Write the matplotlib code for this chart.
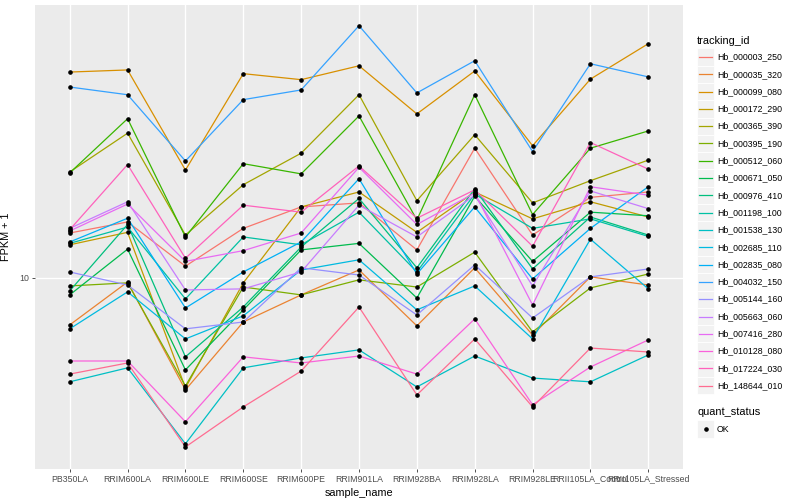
import matplotlib
matplotlib.use("Agg")
import matplotlib.pyplot as plt
from matplotlib.patches import Rectangle
from matplotlib.lines import Line2D

plt.rcParams['font.family'] = ['Liberation Sans', 'DejaVu Sans']

samples = ["PB350LA", "RRIM600LA", "RRIM600LE", "RRIM600SE", "RRIM600PE",
           "RRIM901LA", "RRIM928BA", "RRIM928LA", "RRIM928LE",
           "RRII105LA_Control", "RRII105LA_Stressed"]

tracking_ids = ["Hb_000003_250", "Hb_000035_320", "Hb_000099_080", "Hb_000172_290",
                "Hb_000365_390", "Hb_000395_190", "Hb_000512_060", "Hb_000671_050",
                "Hb_000976_410", "Hb_001198_100", "Hb_001538_130", "Hb_002685_110",
                "Hb_002835_080", "Hb_004032_150", "Hb_005144_160", "Hb_005663_060",
                "Hb_007416_280", "Hb_010128_080", "Hb_017224_030", "Hb_148644_010"]

# ggplot hue palette, 20 levels
colors = ["#F8766D", "#EA8331", "#D89000", "#C09B00", "#A3A500", "#7CAE00",
          "#39B600", "#00BB4E", "#00BF7D", "#00C1A3", "#00BFC4", "#00BAE0",
          "#00B0F6", "#35A2FF", "#9590FF", "#C77CFF", "#E76BF3", "#FA62DB",
          "#FF62BC", "#FF6C91"]

# FPKM + 1 per gene, one value per sample
fpkm = [
    [12.95, 13.8, 10.7, 13.3, 15.05, 15.4, 11.75, 21.1, 12.8, 15.9, 16.4],
    [7.63, 9.77, 5.25, 7.76, 9.07, 10.47, 7.59, 10.6, 7.20, 10.06, 9.60],
    [32.7, 33.1, 18.6, 32.4, 31.3, 33.9, 25.7, 32.9, 21.4, 31.4, 38.5],
    [12.1, 13.0, 5.31, 9.72, 15.05, 16.4, 13.0, 16.4, 14.05, 15.5, 14.2],
    [18.4, 23.0, 12.8, 17.1, 20.5, 28.7, 15.6, 22.8, 15.4, 17.5, 19.7],
    [9.55, 9.72, 5.37, 9.49, 9.07, 9.89, 9.49, 11.6, 7.33, 9.44, 10.23],
    [18.3, 25.0, 12.66, 19.3, 18.2, 25.4, 13.96, 28.7, 14.4, 21.1, 23.3],
    [9.07, 11.8, 5.89, 8.32, 11.75, 12.2, 8.91, 16.0, 11.0, 14.6, 14.3],
    [9.28, 13.6, 6.35, 8.46, 11.95, 15.8, 10.6, 16.7, 10.53, 14.2, 12.8],
    [12.2, 13.4, 8.86, 12.66, 12.1, 14.6, 10.35, 16.2, 13.3, 14.05, 12.7],
    [5.50, 5.96, 3.85, 5.96, 6.31, 6.61, 5.34, 6.38, 5.62, 5.50, 6.42],
    [7.46, 9.23, 7.04, 8.04, 10.47, 11.1, 8.32, 9.55, 7.04, 12.5, 9.39],
    [12.3, 14.1, 8.41, 10.35, 12.3, 17.7, 10.23, 15.05, 9.94, 13.3, 16.9],
    [30.0, 28.7, 19.6, 27.9, 29.5, 42.7, 29.0, 34.9, 20.7, 34.3, 31.8],
    [10.35, 9.60, 7.46, 7.76, 10.6, 10.17, 8.08, 10.78, 7.94, 10.06, 10.53],
    [13.3, 15.5, 9.33, 9.39, 10.35, 15.2, 12.66, 16.1, 9.55, 16.5, 14.9],
    [13.1, 15.3, 11.0, 11.7, 12.95, 18.9, 13.6, 16.3, 8.56, 16.9, 16.1],
    [6.20, 6.20, 4.37, 6.35, 6.13, 6.38, 5.75, 7.90, 4.82, 5.99, 7.00],
    [13.2, 19.2, 11.2, 15.2, 14.6, 19.05, 14.1, 16.6, 12.0, 21.8, 18.7],
    [5.75, 6.13, 3.78, 4.76, 5.85, 8.46, 5.10, 7.04, 4.76, 6.68, 6.53],
]

W, H = 800, 500
fig = plt.figure(figsize=(8, 5), dpi=100)
ax = fig.add_axes([35 / W, 31 / H, 648 / W, 464 / H])
ax.set_facecolor("#EBEBEB")

x = list(range(len(samples)))
for vals, col in zip(fpkm, colors):
    ax.plot(x, vals, color=col, lw=0.9, zorder=2)
for vals in fpkm:
    ax.plot(x, vals, ls="none", marker="o", ms=2.3, color="black", zorder=3)

ax.set_yscale("log")
ax.set_ylim(3.33, 48.1)
ax.set_xlim(-0.6, len(samples) - 0.4)
ax.set_yticks([10])
ax.set_yticklabels(["10"])
ax.yaxis.set_minor_locator(matplotlib.ticker.NullLocator())
ax.set_xticks(x)
ax.set_xticklabels(samples)
ax.grid(True, color="white", lw=1.0, zorder=0)
ax.set_axisbelow(True)
for s in ax.spines.values():
    s.set_visible(False)
ax.tick_params(length=2.5, width=0.6, color="#333333", labelcolor="#4D4D4D",
               labelsize=6.3, pad=1.5)
ax.set_xlabel("sample_name", fontsize=7.8, labelpad=3)
ax.set_ylabel("FPKM + 1", fontsize=7.8, labelpad=6)

# legend drawn by hand, ggplot style
def fy(py):
    return 1 - py / H

fig.text(697 / W, fy(41), "tracking_id", fontsize=7.9, va="center", ha="left")
step = 17.3
for i, (name, col) in enumerate(zip(tracking_ids, colors)):
    cy = 57 + i * step
    fig.add_artist(Rectangle((697 / W, fy(cy + step / 2)), 17 / W, step / H,
                             transform=fig.transFigure, facecolor="#F2F2F2",
                             edgecolor="white", lw=0.6))
    fig.add_artist(Line2D([699 / W, 712 / W], [fy(cy), fy(cy)],
                          transform=fig.transFigure, color=col, lw=0.9))
    fig.text(717 / W, fy(cy), name, fontsize=6.3, va="center", ha="left")

fig.text(697 / W, fy(412), "quant_status", fontsize=7.9, va="center", ha="left")
cy = 429
fig.add_artist(Rectangle((697 / W, fy(cy + step / 2)), 17 / W, step / H,
                         transform=fig.transFigure, facecolor="#F2F2F2",
                         edgecolor="white", lw=0.6))
fig.add_artist(Line2D([705.5 / W], [fy(cy)], transform=fig.transFigure,
                      marker="o", ms=2.3, color="black", ls="none"))
fig.text(717 / W, fy(cy), "OK", fontsize=6.3, va="center", ha="left")

fig.savefig("out.png", dpi=100)
